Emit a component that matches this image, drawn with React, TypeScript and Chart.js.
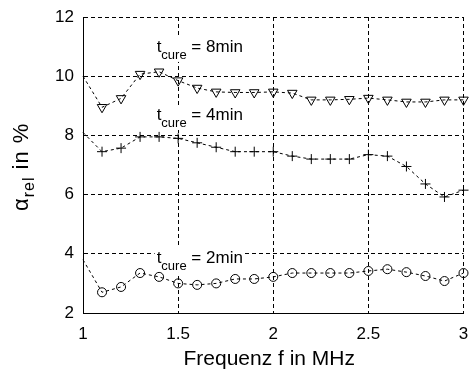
import React, { useEffect, useRef } from "react";
import { Chart, registerables } from "chart.js";

Chart.register(...registerables);

// Measurement frequencies in MHz
const frequencies = [1.0, 1.1, 1.2, 1.3, 1.4, 1.5, 1.6, 1.7, 1.8, 1.9, 2.0, 2.1, 2.2, 2.3, 2.4, 2.5, 2.6, 2.7, 2.8, 2.9, 3.0];

// Relative attenuation in % for the three cure times
const cure8min = [10.0, 8.95, 9.25, 10.07, 10.15, 9.85, 9.6, 9.47, 9.45, 9.45, 9.47, 9.43, 9.2, 9.2, 9.22, 9.26, 9.2, 9.13, 9.13, 9.2, 9.2];
const cure4min = [8.1, 7.45, 7.57, 7.95, 7.95, 7.9, 7.75, 7.6, 7.45, 7.45, 7.45, 7.3, 7.2, 7.2, 7.2, 7.35, 7.3, 6.95, 6.36, 5.92, 6.15];
const cure2min = [3.8, 2.7, 2.88, 3.35, 3.22, 3.0, 2.95, 3.0, 3.15, 3.15, 3.22, 3.35, 3.35, 3.35, 3.35, 3.42, 3.48, 3.38, 3.25, 3.08, 3.35];

const xRange = [1, 3];
const yRange = [2, 12];

// Curve captions: cure time, anchor (left edge / baseline) in data units
const captions = [
  { text: " = 8min", x: 1.387, y: 10.82 },
  { text: " = 4min", x: 1.387, y: 8.52 },
  { text: " = 2min", x: 1.387, y: 3.69 },
];

const FONT = '"Liberation Sans", Arial, Helvetica, sans-serif';

const captionPlugin = {
  id: "cureCaptions",
  beforeDatasetsDraw(chart: any) {
    const { ctx, scales } = chart;
    const sx = scales.x;
    const sy = scales.y;
    ctx.save();
    ctx.textBaseline = "alphabetic";
    for (const c of captions) {
      const px = sx.getPixelForValue(c.x);
      const py = sy.getPixelForValue(c.y);
      ctx.font = `17px ${FONT}`;
      const wT = ctx.measureText("t").width;
      const wRest = ctx.measureText(c.text).width;
      ctx.font = `13px ${FONT}`;
      const wSub = ctx.measureText("cure").width;
      const total = wT + wSub + wRest;
      ctx.fillStyle = "#ffffff";
      ctx.fillRect(px - 2, py - 15, total + 4, 25);
      ctx.fillStyle = "#000000";
      ctx.font = `17px ${FONT}`;
      ctx.fillText("t", px, py);
      ctx.font = `13px ${FONT}`;
      ctx.fillText("cure", px + wT, py + 7);
      ctx.font = `17px ${FONT}`;
      ctx.fillText(c.text, px + wT + wSub, py);
    }
    ctx.restore();
  },
  afterDraw(chart: any) {
    const { ctx, chartArea } = chart;
    ctx.save();
    ctx.fillStyle = "#000000";
    ctx.textBaseline = "alphabetic";
    // x axis title
    ctx.font = `21px ${FONT}`;
    ctx.textAlign = "center";
    ctx.fillText("Frequenz f in MHz", (chartArea.left + chartArea.right) / 2 - 4, 365);
    // y axis title, rotated, with subscript
    ctx.textAlign = "left";
    ctx.translate(28, 211);
    ctx.rotate(-Math.PI / 2);
    try {
      (ctx as any).letterSpacing = "1px";
    } catch (e) {}
    ctx.font = `22px ${FONT}`;
    ctx.fillText("\u03b1", 0, 0);
    let off = ctx.measureText("\u03b1").width;
    ctx.font = `16px ${FONT}`;
    ctx.fillText("rel", off, 6);
    off += ctx.measureText("rel").width;
    ctx.font = `22px ${FONT}`;
    ctx.fillText(" in %", off, 0);
    ctx.restore();
  },
};

// Keep the plot frame fixed: no extra room reserved for overhanging tick labels
const clearPadding = (s: any) => {
  s.paddingLeft = 0;
  s.paddingRight = 0;
  s.paddingTop = 0;
  s.paddingBottom = 0;
};

export default function App() {
  const canvasRef = useRef<HTMLCanvasElement | null>(null);

  useEffect(() => {
    const canvas = canvasRef.current;
    if (!canvas) return;
    const pts = (arr: number[]) => frequencies.map((f, i) => ({ x: f, y: arr[i] }));
    const base = {
      borderColor: "#000000",
      borderWidth: 1,
      borderDash: [3, 3],
      pointBorderColor: "#000000",
      pointBackgroundColor: "rgba(0,0,0,0)",
      pointBorderWidth: 1,
      fill: false,
      tension: 0,
      clip: false as any,
    };
    const chart = new Chart(canvas, {
      type: "line",
      data: {
        datasets: [
          {
            ...base,
            label: "8min",
            data: pts(cure8min),
            pointStyle: "triangle",
            pointRotation: 180,
            pointRadius: (c: any) => (c.dataIndex === 0 ? 0 : 5.5),
          },
          {
            ...base,
            label: "4min",
            data: pts(cure4min),
            pointStyle: "cross",
            pointRadius: (c: any) => (c.dataIndex === 0 ? 0 : 5),
          },
          {
            ...base,
            label: "2min",
            data: pts(cure2min),
            pointStyle: "circle",
            pointRadius: (c: any) => (c.dataIndex === 0 ? 0 : 4.5),
          },
        ],
      },
      options: {
        animation: false,
        responsive: false,
        devicePixelRatio: 1,
        layout: { padding: { left: 0, top: 17, right: 5, bottom: 0 } },
        plugins: { legend: { display: false }, tooltip: { enabled: false } },
        scales: {
          x: {
            type: "linear",
            min: xRange[0],
            max: xRange[1],
            ticks: {
              stepSize: 0.5,
              color: "#000000",
              font: { family: FONT, size: 17 },
              padding: 11,
              maxRotation: 0,
              callback: (v: any) => String(v),
            },
            grid: { color: "#000000", lineWidth: 1, drawTicks: false },
            border: { display: true, color: "#000000", width: 1, dash: [4, 3] },
            afterFit: (s: any) => {
              s.height = 56;
              clearPadding(s);
            },
          },
          y: {
            type: "linear",
            min: yRange[0],
            max: yRange[1],
            ticks: {
              stepSize: 2,
              color: "#000000",
              font: { family: FONT, size: 17 },
              padding: 9,
            },
            grid: { color: "#000000", lineWidth: 1, drawTicks: false },
            border: { display: true, color: "#000000", width: 1, dash: [4, 3] },
            afterFit: (s: any) => {
              s.width = 83;
              clearPadding(s);
            },
          },
        },
      },
      plugins: [captionPlugin],
    } as any);
    return () => chart.destroy();
  }, []);

  return (
    <div style={{ position: "absolute", left: 0, top: 0, width: 470, height: 369, background: "#fff" }}>
      <canvas ref={canvasRef} width={470} height={369} style={{ display: "block" }} />
    </div>
  );
}
